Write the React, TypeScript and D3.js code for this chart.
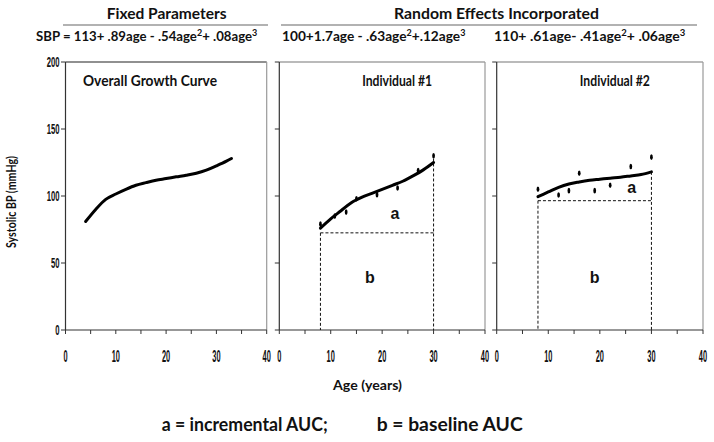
import React from "react";
import * as d3 from "d3";

// ---------- data ----------
const xTicks = [0, 10, 20, 30, 40];
const xMinorTicks = [0, 5, 10, 15, 20, 25, 30, 35, 40];
const yTicks = [0, 50, 100, 150, 200];

const overallAges = [4, 6, 8, 10, 12, 14, 16, 18, 20, 22, 24, 26, 28, 30, 32, 33];
const overallSBP = [81, 90, 97.5, 101.5, 105, 108, 110, 111.8, 113, 114.3, 115.5, 117, 119.3, 122.5, 126, 128];

const ind1Ages = [8, 10, 12, 14, 16, 18, 20, 22, 24, 26, 28, 30];
const ind1SBP = [76, 83, 89, 95, 99, 102, 105, 108, 111, 115, 119.5, 125];
const ind1ObsAges = [8, 10.8, 13, 15, 19, 23, 27, 30];
const ind1ObsSBP = [79, 85, 88, 98, 101, 106, 119, 130];
const ind1Baseline = 72.5;
const ind1End = 128;

const ind2Ages = [8, 10, 12, 14, 16, 18, 20, 22, 24, 26, 28, 30];
const ind2SBP = [99.5, 103, 106.5, 109, 110.5, 111.7, 112.5, 113.3, 114, 115, 116, 118];
const ind2ObsAges = [8, 12, 14, 16, 19, 22, 26, 30];
const ind2ObsSBP = [105, 100.7, 104, 117, 104, 108, 122, 129];
const ind2Baseline = 96.5;
const ind2End = 118;

const aucStart = 8;
const aucEnd = 30;

const panelTitles = ["Overall Growth Curve", "Individual #1", "Individual #2"];

// ---------- layout ----------
const W = 714;
const H = 442;
const Y0 = 330;
const Y1 = 62;
const panelRanges: [number, number][] = [
  [65.5, 266.7],
  [279.3, 485],
  [496.7, 703],
];

const yScale = d3.scaleLinear().domain([0, 200]).range([Y0, Y1]);
const xScales = panelRanges.map((r) => d3.scaleLinear().domain([0, 40]).range(r));

const BOLD = "Lato, 'Open Sans', sans-serif";
const NUM = "'Liberation Sans', Arial, sans-serif";

function CondText({ x, y, sx, size, anchor, children }: any) {
  return (
    <text
      transform={`translate(${x},${y}) scale(${sx},1)`}
      fontSize={size}
      fontFamily={NUM}
      fontWeight="bold"
      textAnchor={anchor}
      fill="#111"
    >
      {children}
    </text>
  );
}

function Panel({ idx, children }: any) {
  const x = xScales[idx];
  const [x0, x1] = panelRanges[idx];
  return (
    <g>
      <line x1={x0} x2={x1} y1={Y1} y2={Y1} stroke={idx === 0 ? "#222" : "#777"} strokeWidth={1.2} />
      <line x1={x1} x2={x1} y1={Y1} y2={Y0} stroke="#999" strokeWidth={1.2} />
      <line x1={x0} x2={x0} y1={Y1} y2={Y0} stroke="#333" strokeWidth={1.2} />
      {yTicks.map((t) => (
        <line key={"yt" + t} x1={x0 - 4.5} x2={x0} y1={yScale(t)} y2={yScale(t)} stroke="#333" strokeWidth={1} />
      ))}
      {idx === 0 &&
        yTicks.map((t) => (
          <CondText key={"yl" + t} x={x0 - 6} y={yScale(t) + 5} sx={0.55} size={14} anchor="end">
            {t}
          </CondText>
        ))}
      <line x1={x0} x2={x1} y1={Y0} y2={Y0} stroke="#333" strokeWidth={1.2} />
      {xMinorTicks.map((t) => (
        <line key={"xt" + t} x1={x(t)} x2={x(t)} y1={Y0} y2={Y0 + 4} stroke="#333" strokeWidth={1} />
      ))}
      {xTicks.map((t) => (
        <CondText key={"xl" + t} x={x(t)} y={362} sx={0.45} size={16.5} anchor="middle">
          {t}
        </CondText>
      ))}
      <text
        x={idx === 0 ? 83 : (x0 + x1) / 2 - 20}
        y={86}
        fontFamily={BOLD}
        fontWeight="bold"
        fontSize={15}
        fill="#111"
        textLength={idx === 0 ? 134 : 70}
        lengthAdjust="spacingAndGlyphs"
      >
        {panelTitles[idx]}
      </text>
      {children}
    </g>
  );
}

function curvePath(x: any, ages: number[], vals: number[]) {
  const pts = ages.map((a, i) => [x(a), yScale(vals[i])] as [number, number]);
  return d3.line().curve(d3.curveMonotoneX)(pts) || "";
}

function Individual({ idx, ages, vals, obsA, obsV, base, end, aPos, bPos }: any) {
  const x = xScales[idx];
  return (
    <g>
      <g stroke="#111" strokeWidth={1} strokeDasharray="3,2" fill="none">
        <line x1={x(aucStart)} x2={x(aucEnd)} y1={yScale(base)} y2={yScale(base)} />
        <line x1={x(aucStart)} x2={x(aucStart)} y1={yScale(base)} y2={Y0} />
        <line x1={x(aucEnd)} x2={x(aucEnd)} y1={yScale(end)} y2={Y0} />
      </g>
      <path d={curvePath(x, ages, vals)} fill="none" stroke="#000" strokeWidth={3} strokeLinecap="round" />
      {obsA.map((a: number, i: number) => (
        <ellipse key={i} cx={x(a)} cy={yScale(obsV[i])} rx={1.4} ry={2.8} fill="#000" />
      ))}
      <text x={x(aPos[0])} y={yScale(aPos[1]) + 5} textAnchor="middle" fontFamily={NUM} fontWeight="bold" fontSize={16} fill="#111">
        a
      </text>
      <text x={x(bPos[0])} y={yScale(bPos[1]) + 6} textAnchor="middle" fontFamily={NUM} fontWeight="bold" fontSize={16} fill="#111">
        b
      </text>
    </g>
  );
}

export default function App() {
  const eq = (size: number) => ({ fontFamily: BOLD, fontWeight: "bold" as const, fontSize: size, fill: "#111" });
  return (
    <svg
      width={W}
      height={H}
      viewBox={`0 0 ${W} ${H}`}
      style={{ position: "absolute", left: 0, top: 0, background: "#fff" }}
    >
      <rect x={0} y={0} width={W} height={H} fill="#fff" />
      <text x={106.7} y={19} fontFamily={BOLD} fontWeight="bold" fontSize={16} fill="#111" textLength={120} lengthAdjust="spacingAndGlyphs">
        Fixed Parameters
      </text>
      <text x={394} y={19} fontFamily={BOLD} fontWeight="bold" fontSize={16} fill="#111" textLength={205} lengthAdjust="spacingAndGlyphs">
        Random Effects Incorporated
      </text>
      <line x1={63} x2={268} y1={25} y2={25} stroke="#666" strokeWidth={1.2} />
      <line x1={281} x2={697} y1={25} y2={25} stroke="#666" strokeWidth={1.2} />

      <text x={36} y={41} {...eq(13.2)}>
        SBP = 113+ .89age - .54age
        <tspan dy={-5} fontSize={9}>2</tspan>
        <tspan dy={5}>+ .08age</tspan>
        <tspan dy={-5} fontSize={9}>3</tspan>
      </text>
      <text x={282} y={41} {...eq(13.7)}>
        100+1.7age - .63age
        <tspan dy={-5} fontSize={9}>2</tspan>
        <tspan dy={5}>+.12age</tspan>
        <tspan dy={-5} fontSize={9}>3</tspan>
      </text>
      <text x={494} y={41} {...eq(14)}>
        110+ .61age- .41age
        <tspan dy={-5} fontSize={9.5}>2</tspan>
        <tspan dy={5}>+ .06age</tspan>
        <tspan dy={-5} fontSize={9.5}>3</tspan>
      </text>

      <Panel idx={0}>
        <path
          d={curvePath(xScales[0], overallAges, overallSBP)}
          fill="none"
          stroke="#000"
          strokeWidth={3}
          strokeLinecap="round"
        />
      </Panel>
      <Panel idx={1}>
        <Individual
          idx={1}
          ages={ind1Ages}
          vals={ind1SBP}
          obsA={ind1ObsAges}
          obsV={ind1ObsSBP}
          base={ind1Baseline}
          end={ind1End}
          aPos={[22.5, 86.6]}
          bPos={[17.6, 39.8]}
        />
      </Panel>
      <Panel idx={2}>
        <Individual
          idx={2}
          ages={ind2Ages}
          vals={ind2SBP}
          obsA={ind2ObsAges}
          obsV={ind2ObsSBP}
          base={ind2Baseline}
          end={ind2End}
          aPos={[26.2, 105.7]}
          bPos={[19, 39.8]}
        />
      </Panel>

      <text x={333} y={390} fontFamily={BOLD} fontWeight="bold" fontSize={14} fill="#111" textLength={69} lengthAdjust="spacingAndGlyphs">
        Age (years)
      </text>
      <text
        transform="translate(16,202) rotate(-90)"
        textAnchor="middle"
        fontFamily={BOLD}
        fontWeight="bold"
        fontSize={14}
        fill="#111"
        textLength={92}
        lengthAdjust="spacingAndGlyphs"
      >
        Systolic BP (mmHg)
      </text>

      <text x={161.7} y={430.7} fontFamily={BOLD} fontWeight="bold" fontSize={19} fill="#111" textLength={166} lengthAdjust="spacingAndGlyphs">
        a = incremental AUC;
      </text>
      <text x={376.7} y={430.7} fontFamily={BOLD} fontWeight="bold" fontSize={19} fill="#111" textLength={146} lengthAdjust="spacingAndGlyphs">
        b = baseline AUC
      </text>
    </svg>
  );
}
